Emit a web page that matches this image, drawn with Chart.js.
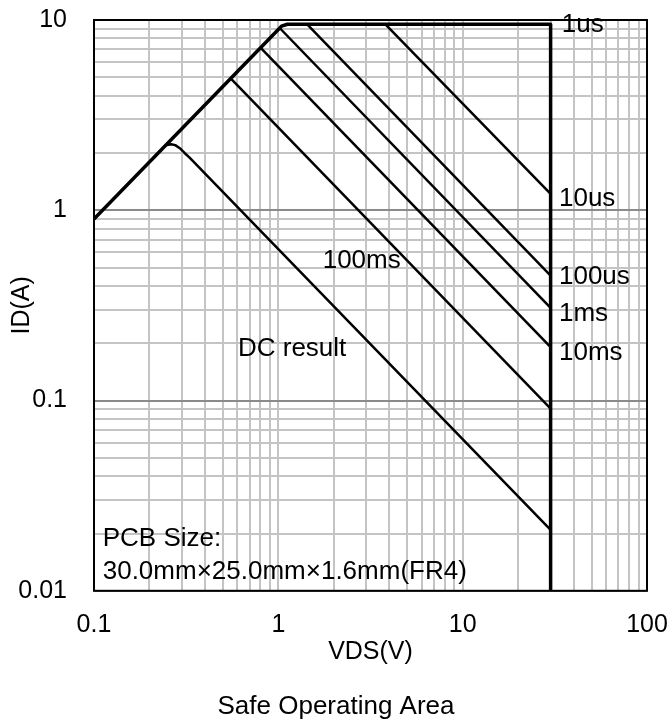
<!DOCTYPE html>
<html>
<head>
<meta charset="utf-8">
<script src="https://cdn.jsdelivr.net/npm/chart.js@4.4.0/dist/chart.umd.min.js"></script>
<style>
  body { margin: 0; background: #fff; }
  canvas { display: block; }
</style>
</head>
<body>
<canvas id="soaChart" width="672" height="722"></canvas>
<script>
// Tick values (log grid, 1..9 per decade)
const xTickValues = [0.1, 0.2, 0.3, 0.4, 0.5, 0.6, 0.7, 0.8, 0.9,
    1, 2, 3, 4, 5, 6, 7, 8, 9,
    10, 20, 30, 40, 50, 60, 70, 80, 90, 100];
const yTickValues = [0.01, 0.02, 0.03, 0.04, 0.05, 0.06, 0.07, 0.08, 0.09,
    0.1, 0.2, 0.3, 0.4, 0.5, 0.6, 0.7, 0.8, 0.9,
    1, 2, 3, 4, 5, 6, 7, 8, 9, 10];

// SOA curves, VDS (V) and ID (A)
const us1V = [0.1, 1.04, 1.12, 30, 30];
const us1I = [0.9, 9.28, 9.5, 9.5, 0.01];
const us10V = [3.8, 30];
const us10I = [9.5, 1.22];
const us100V = [1.43, 30];
const us100I = [9.5, 0.453];
const ms1V = [1.02, 30];
const ms1I = [9.05, 0.307];
const ms10V = [0.80, 30];
const ms10I = [7.16, 0.191];
const ms100V = [0.553, 30];
const ms100I = [4.92, 0.0908];
const dcV = [0.248, 0.262, 0.276, 0.292, 0.31, 0.33, 30];
const dcI = [2.2, 2.225, 2.2, 2.12, 2.0, 1.89, 0.0209];

// Text notes placed in data coordinates (left edge, baseline)
const noteTexts = ['1us', '10us', '100us', '1ms', '10ms', '100ms', 'DC result',
    'PCB Size:', '30.0mm\u00d725.0mm\u00d71.6mm(FR4)'];
const noteV = [34.5, 33.3, 33.3, 33.3, 33.3, 1.74, 0.604, 0.1115, 0.1115];
const noteI = [8.68, 1.05, 0.408, 0.262, 0.163, 0.499, 0.171, 0.0173, 0.01156];

const FONT = "'Liberation Sans', Arial, sans-serif";

function toPoints(xs, ys) {
    let pts = [];
    for (let i = 0; i < xs.length; i++) {
        pts.push({x: xs[i], y: ys[i]});
    }
    return pts;
}

function isDecade(v) {
    let l = Math.log10(v);
    return Math.abs(l - Math.round(l)) < 1e-9;
}

function curve(label, xs, ys, width) {
    return {
        label: label,
        data: toPoints(xs, ys),
        borderColor: '#000',
        borderWidth: width,
        pointRadius: 0,
        tension: 0,
        fill: false,
        borderJoinStyle: 'round'
    };
}

// Frame and text notes
const notesPlugin = {
    id: 'notes',
    afterDraw(chart) {
        const ctx = chart.ctx;
        const area = chart.chartArea;
        const xs = chart.scales.x, ys = chart.scales.y;
        ctx.save();
        ctx.strokeStyle = '#000';
        ctx.lineWidth = 2;
        ctx.strokeRect(area.left, area.top, area.right - area.left, area.bottom - area.top);

        ctx.fillStyle = '#000';
        ctx.font = '26px ' + FONT;
        ctx.textAlign = 'left';
        ctx.textBaseline = 'alphabetic';
        for (let i = 0; i < noteTexts.length; i++) {
            ctx.fillText(noteTexts[i], xs.getPixelForValue(noteV[i]), ys.getPixelForValue(noteI[i]));
        }
        ctx.restore();
    }
};

const ctx = document.getElementById('soaChart');
new Chart(ctx, {
    type: 'line',
    data: {
        datasets: [
            curve('1us', us1V, us1I, 3.5),
            curve('10us', us10V, us10I, 2.5),
            curve('100us', us100V, us100I, 2.5),
            curve('1ms', ms1V, ms1I, 2.5),
            curve('10ms', ms10V, ms10I, 2.5),
            curve('100ms', ms100V, ms100I, 2.5),
            curve('DC', dcV, dcI, 2.5)
        ]
    },
    options: {
        responsive: false,
        animation: false,
        layout: { padding: { top: 20, left: 0, right: 0, bottom: 0 } },
        plugins: {
            legend: { display: false },
            tooltip: { enabled: false },
            title: {
                display: true,
                text: 'Safe Operating Area',
                position: 'bottom',
                color: '#000',
                font: { family: FONT, size: 26, weight: 'normal' },
                padding: { top: 0, bottom: 0 }
            }
        },
        scales: {
            x: {
                type: 'logarithmic',
                min: 0.1,
                max: 100,
                afterBuildTicks: function (scale) {
                    scale.ticks = xTickValues.map(v => ({ value: v }));
                },
                afterFit: function (scale) {
                    scale.height = 100;
                    scale.paddingLeft = 0;
                    scale.paddingRight = 0;
                },
                border: { display: false },
                grid: {
                    drawTicks: false,
                    color: '#c4c4c4',
                    lineWidth: 2
                },
                ticks: {
                    autoSkip: false,
                    maxRotation: 0,
                    padding: 19,
                    color: '#000',
                    font: { family: FONT, size: 25 },
                    callback: function (value) {
                        return isDecade(value) ? String(value) : '';
                    }
                },
                title: {
                    display: true,
                    text: 'VDS(V)',
                    color: '#000',
                    font: { family: FONT, size: 25 },
                    padding: { top: 0, bottom: 24 }
                }
            },
            y: {
                type: 'logarithmic',
                min: 0.01,
                max: 10,
                afterBuildTicks: function (scale) {
                    scale.ticks = yTickValues.map(v => ({ value: v }));
                },
                afterFit: function (scale) {
                    scale.width = 94;
                    scale.paddingTop = 0;
                    scale.paddingBottom = 0;
                },
                border: { display: false },
                grid: {
                    drawTicks: false,
                    color: function (c) {
                        return (c.tick && isDecade(c.tick.value)) ? '#8a8a8a' : '#c4c4c4';
                    },
                    lineWidth: 2
                },
                ticks: {
                    autoSkip: false,
                    padding: 27,
                    color: '#000',
                    font: { family: FONT, size: 25 },
                    callback: function (value) {
                        return isDecade(value) ? String(value) : '';
                    }
                },
                title: {
                    display: true,
                    text: 'ID(A)',
                    color: '#000',
                    font: { family: FONT, size: 25 },
                    padding: { top: 7, bottom: 0 }
                }
            },
            spacer: {
                type: 'linear',
                position: 'right',
                display: true,
                afterFit: function (scale) {
                    scale.width = 25;
                    scale.paddingTop = 0;
                    scale.paddingBottom = 0;
                },
                border: { display: false },
                grid: { display: false },
                ticks: { display: false }
            }
        }
    },
    plugins: [notesPlugin]
});
</script>
</body>
</html>
